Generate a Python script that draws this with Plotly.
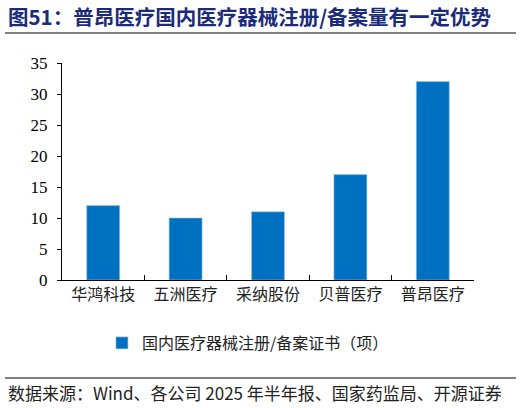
import plotly.graph_objects as go

# data
companies = ["华鸿科技", "五洲医疗", "采纳股份", "贝普医疗", "普昂医疗"]
certificates = [12, 10, 11, 17, 32]
series_name = "国内医疗器械注册/备案证书（项）"
y_ticks = [0, 5, 10, 15, 20, 25, 30, 35]

title_text = "图51：普昂医疗国内医疗器械注册/备案量有一定优势"
source_text = "数据来源：Wind、各公司 2025 年半年报、国家药监局、开源证券"

W, H = 522, 408
L, R, T, B = 62, 48, 63, 128
pw, ph = W - L - R, H - T - B


def px_x(x):
    return (x - L) / pw


def px_y(y):
    return (H - B - y) / ph


cjk = "Noto Sans CJK SC"
serif = "Liberation Serif"

fig = go.Figure()
fig.add_trace(go.Bar(
    x=companies, y=certificates, name=series_name,
    marker=dict(color="#0070C0", line=dict(color="#9DC3E6", width=0.6)),
))

fig.update_layout(
    width=W, height=H,
    margin=dict(l=L, r=R, t=T, b=B, autoexpand=False),
    paper_bgcolor="white", plot_bgcolor="white",
    bargap=0.6,
    showlegend=True,
    legend=dict(
        orientation="h", xref="container", yref="container",
        x=0.475, y=1 - 343 / H, xanchor="center", yanchor="middle",
        font=dict(family=cjk, size=16, color="#222222"),
        itemwidth=30,
    ),
    xaxis=dict(
        showline=True, linecolor="black", linewidth=1,
        ticks="inside", tickson="boundaries", ticklen=5, tickcolor="black",
        tickfont=dict(family=cjk, size=16, color="#222222"),
        showgrid=False,
    ),
    yaxis=dict(
        range=[0, 35], tickvals=y_ticks,
        showline=True, linecolor="black", linewidth=1,
        ticks="outside", ticklen=4, tickcolor="black",
        ticklabelstandoff=6,
        tickfont=dict(family=serif, size=17, color="black"),
        showgrid=False, zeroline=False,
    ),
)

# title and its rule
fig.add_annotation(
    text="<b>" + title_text + "</b>", xref="paper", yref="paper",
    x=px_x(6), y=px_y(16), xanchor="left", yanchor="middle", showarrow=False,
    font=dict(family=cjk, size=20.5, color="#1B2B7A"),
)
fig.add_shape(type="line", xref="paper", yref="paper",
              x0=px_x(5), x1=px_x(516), y0=px_y(33), y1=px_y(33),
              line=dict(color="#808080", width=2))

# source rule and note
fig.add_shape(type="line", xref="paper", yref="paper",
              x0=px_x(5), x1=px_x(516), y0=px_y(378), y1=px_y(378),
              line=dict(color="black", width=1))
fig.add_annotation(
    text=source_text, xref="paper", yref="paper",
    x=px_x(6), y=px_y(393), xanchor="left", yanchor="middle", showarrow=False,
    font=dict(family=cjk, size=17, color="#222222"),
)

# drop the default page margin so the figure sits at the window's corner
fig.write_html("out.html", config={"displayModeBar": False},
               post_script="document.body.style.margin='0px';")
